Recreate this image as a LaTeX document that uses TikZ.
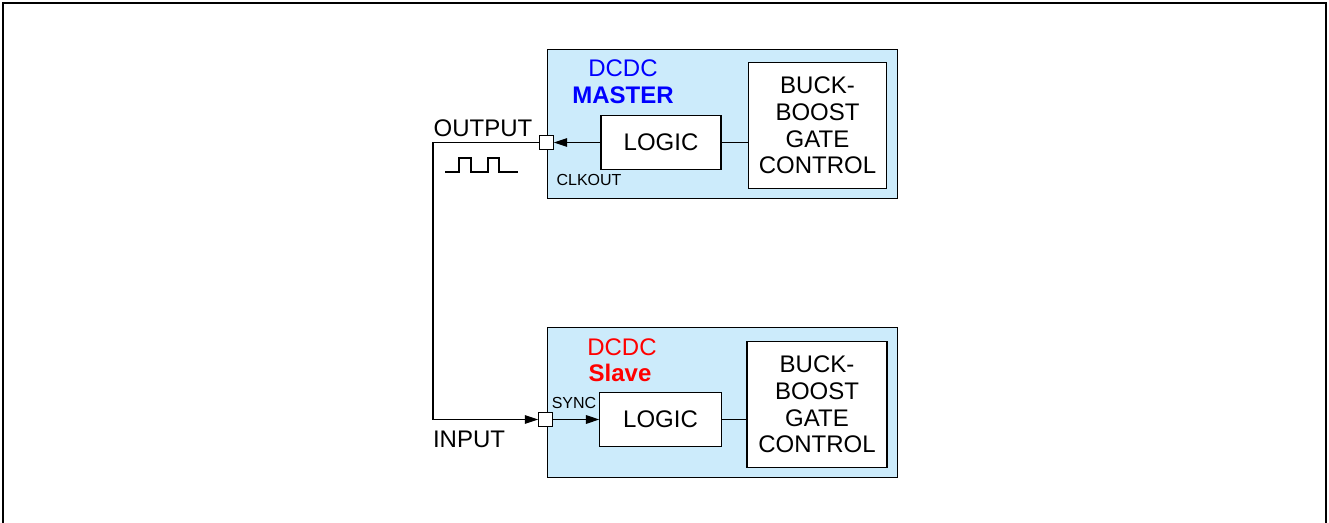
\documentclass[tikz,border=0pt]{standalone}
\usepackage{fontspec}
\setmainfont{Liberation Sans}
\usetikzlibrary{arrows.meta,positioning}
\definecolor{chipblue}{HTML}{CCEBFB}

\begin{document}
\begin{tikzpicture}[x=0.75pt,y=-0.75pt,font=\fontsize{18}{20}\selectfont,
  chip/.style={draw,fill=chipblue,line width=0.9pt,minimum width=263pt,minimum height=112pt,inner sep=0pt},
  block/.style={draw,fill=white,line width=0.9pt,inner sep=0pt,align=center},
  pin/.style={draw,fill=white,line width=0.6pt,minimum size=10.5pt,inner sep=0pt},
  wire/.style={line width=0.8pt},
  sig/.style={wire,-{Triangle[length=10pt,width=6.5pt]}}]
\useasboundingbox (0,0) rectangle (1329,523);
\draw[line width=1.5pt] (3,523) |- (1326,3) -- (1326,523);
% master
\node[chip] (master) at (722.5,124) {};
\node[block,minimum width=104pt,minimum height=95pt] (mgate) at (817.5,125.5) {BUCK-\\BOOST\\GATE\\CONTROL};
\node[block,minimum width=90pt,minimum height=40pt] (mlogic) at (661,142.5) {LOGIC};
\node[pin] (mpin) at (546.5,142.5) {};
\node[text=blue] (mname) at (623,68) {DCDC};
\node[text=blue,font=\fontsize{18}{20}\selectfont\bfseries] (mrole) at (623,95) {MASTER};
\node[font=\fontsize{12}{14}\selectfont] (clkout) at (589,180) {CLKOUT};
\node (output) at (483,128) {OUTPUT};
% slave
\node[chip] (slave) at (722.5,402.5) {};
\node[block,minimum width=105pt,minimum height=95pt] (sgate) at (817,404.5) {BUCK-\\BOOST\\GATE\\CONTROL};
\node[block,minimum width=91pt,minimum height=40pt] (slogic) at (660.5,419.5) {LOGIC};
\node[pin] (spin) at (545.5,419.5) {};
\node[text=red] (sname) at (622,347) {DCDC};
\node[text=red,font=\fontsize{18}{20}\selectfont\bfseries] (srole) at (620,373) {Slave};
\node[font=\fontsize{12}{14}\selectfont] (sync) at (574,403) {SYNC};
\node (input) at (469,439) {INPUT};
% links
\draw[sig] (mlogic.west) -- (mpin.east);
\draw[wire] (mlogic.east) -- (mlogic.east -| mgate.west);
\draw[wire] (slogic.east) -- (slogic.east -| sgate.west);
\coordinate (bend) at (433,142.5);
\draw[sig] (mpin.west) -- (bend) |- (spin.west);
\draw[sig] (spin.east) -- (slogic.west);
% clock
\draw[wire] (445,172) -- (459,172) -- (459,158) -- (471,158) -- (471,172)
  -- (488,172) -- (488,158) -- (499,158) -- (499,172) -- (518,172);
\end{tikzpicture}
\end{document}
